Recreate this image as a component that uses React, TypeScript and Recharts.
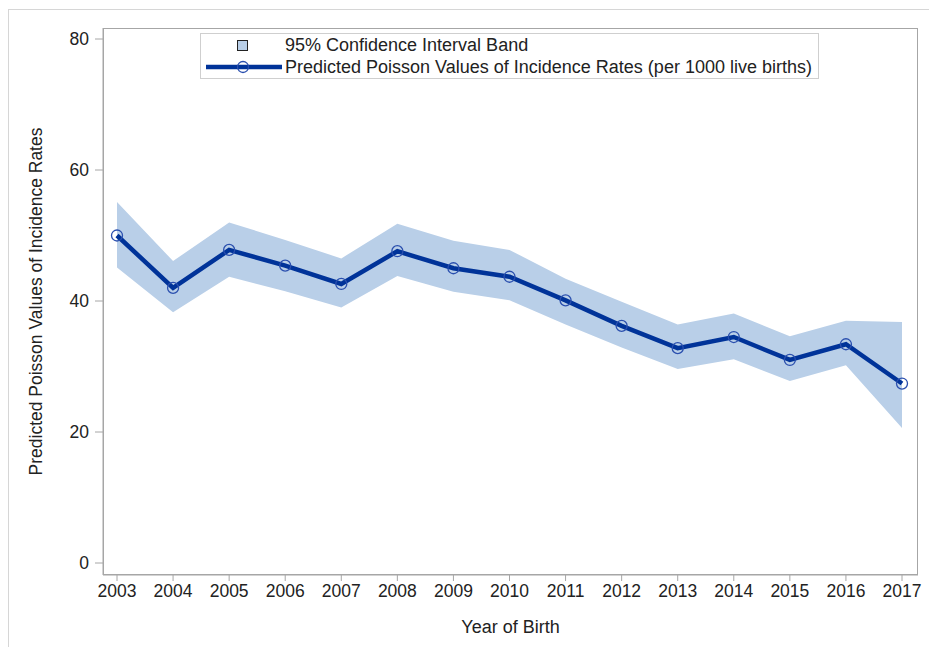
import { ComposedChart, Area, Line, XAxis, YAxis } from "recharts";

const years = [2003, 2004, 2005, 2006, 2007, 2008, 2009, 2010, 2011, 2012, 2013, 2014, 2015, 2016, 2017];
const predicted = [50.0, 42.0, 47.8, 45.4, 42.6, 47.6, 45.0, 43.7, 40.1, 36.2, 32.8, 34.5, 31.0, 33.4, 27.4];
const upperCI = [55.1, 46.1, 52.0, 49.3, 46.5, 51.8, 49.2, 47.8, 43.4, 39.9, 36.4, 38.1, 34.6, 37.0, 36.8];
const lowerCI = [45.1, 38.3, 43.7, 41.5, 39.0, 43.8, 41.4, 40.1, 36.4, 32.9, 29.6, 31.1, 27.8, 30.2, 20.6];
const yTicks = [0, 20, 40, 60, 80];

const LINE = "#003399";
const BAND = "#b9cfe8";
const AXIS = "#a6a6a6";
const TEXT = "#222";
const FONT = "'Liberation Sans', Arial, sans-serif";

const rows = years.map((year, i) => ({
  year,
  rate: predicted[i],
  band: [lowerCI[i], upperCI[i]],
}));

// legend drawn by hand, SAS-style box at the top of the plot
function LegendBox() {
  return (
    <div
      style={{
        position: "absolute",
        left: 200,
        top: 33,
        width: 617,
        height: 44,
        border: "1px solid #cfcfcf",
        fontFamily: FONT,
        fontSize: 18,
        color: TEXT,
        background: "#fff",
      }}
    >
      <svg width={84} height={44} style={{ position: "absolute", left: 0, top: 0 }}>
        <rect x={36.5} y={6.5} width={10} height={10} fill={BAND} stroke="#222" strokeWidth={1} />
        <line x1={5} y1={33} x2={81} y2={33} stroke={LINE} strokeWidth={4.5} />
        <circle cx={42} cy={33} r={5.5} fill="none" stroke="#2a4fae" strokeWidth={1.3} />
      </svg>
      <div style={{ position: "absolute", left: 84, top: 1, lineHeight: "20px", whiteSpace: "nowrap" }}>
        95% Confidence Interval Band
      </div>
      <div style={{ position: "absolute", left: 84, top: 23, lineHeight: "20px", whiteSpace: "nowrap" }}>
        Predicted Poisson Values of Incidence Rates (per 1000 live births)
      </div>
    </div>
  );
}

export default function App() {
  return (
    <div
      style={{
        position: "absolute",
        left: 0,
        top: 0,
        width: 929,
        height: 647,
        background: "#fff",
        overflow: "hidden",
      }}
    >
      <div
        style={{
          position: "absolute",
          left: 8,
          top: 9,
          width: 925,
          height: 645,
          borderTop: "1px solid #d6d6d6",
          borderLeft: "1px solid #d6d6d6",
        }}
      />
      <ComposedChart
        width={929}
        height={647}
        data={rows}
        margin={{ top: 28, right: 11, bottom: 0, left: 0 }}
        style={{ position: "absolute", left: 0, top: 0, fontFamily: FONT }}
      >
        <XAxis
          dataKey="year"
          type="number"
          domain={[2003, 2017]}
          ticks={years}
          interval={0}
          padding={{ left: 14, right: 16 }}
          height={72}
          stroke={AXIS}
          tickSize={6}
          tickMargin={4}
          tick={{ fill: TEXT, fontSize: 17.5 }}
          label={{ value: "Year of Birth", position: "insideBottom", offset: 14, fill: TEXT, fontSize: 18 }}
        />
        <YAxis
          type="number"
          domain={[0, 80]}
          ticks={yTicks}
          width={103}
          padding={{ top: 11, bottom: 12 }}
          stroke={AXIS}
          tickSize={8}
          tickMargin={6}
          tick={{ fill: TEXT, fontSize: 17.5 }}
          label={{
            value: "Predicted Poisson Values of Incidence Rates",
            angle: -90,
            position: "center",
            dx: -16,
            fill: TEXT,
            fontSize: 17.5,
          }}
        />
        <Area
          dataKey="band"
          type="linear"
          stroke="none"
          fill={BAND}
          fillOpacity={1}
          isAnimationActive={false}
          activeDot={false}
        />
        <Line
          dataKey="rate"
          type="linear"
          stroke={LINE}
          strokeWidth={4.5}
          dot={{ r: 5.5, fill: "none", stroke: "#2a4fae", strokeWidth: 1.3 }}
          activeDot={false}
          isAnimationActive={false}
        />
      </ComposedChart>
      <div
        style={{
          position: "absolute",
          left: 103,
          top: 28,
          width: 815,
          height: 547,
          border: `1px solid ${AXIS}`,
          boxSizing: "border-box",
          pointerEvents: "none",
        }}
      />
      <LegendBox />
    </div>
  );
}
